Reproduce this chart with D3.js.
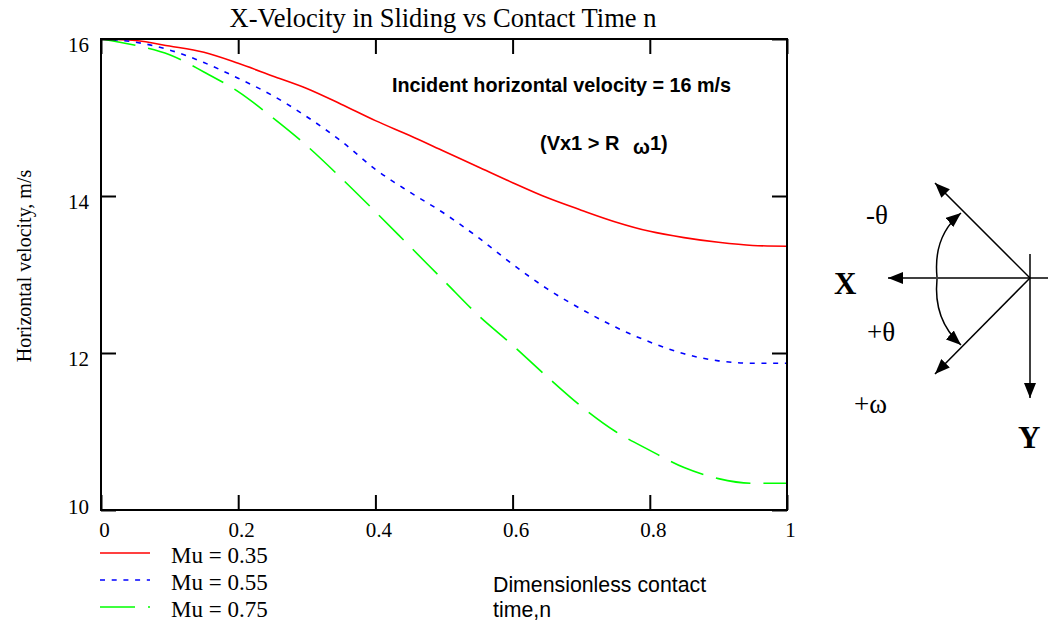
<!DOCTYPE html>
<html>
<head>
<meta charset="utf-8">
<script src="https://cdn.jsdelivr.net/npm/d3@7"></script>
<style>
  body { margin: 0; background: #fff; }
  svg { display: block; }
  .serif { font-family: "Times New Roman", "Liberation Serif", serif; }
  .sans { font-family: Arial, "Liberation Sans", sans-serif; }
</style>
</head>
<body>
<div id="chart"></div>
<script>
// dimensionless contact time n
const nTime = [0, 0.05, 0.1, 0.15, 0.2, 0.25, 0.3, 0.35, 0.4, 0.45, 0.5,
               0.55, 0.6, 0.65, 0.7, 0.75, 0.8, 0.85, 0.9, 0.95, 1];
// horizontal velocity (m/s) for each friction coefficient
const velMu035 = [16.00, 15.98, 15.91, 15.83, 15.69, 15.53, 15.37, 15.17, 14.96, 14.77, 14.57,
                  14.37, 14.17, 13.98, 13.82, 13.67, 13.55, 13.47, 13.41, 13.37, 13.36];
const velMu055 = [16.00, 15.96, 15.86, 15.70, 15.50, 15.28, 15.01, 14.70, 14.34, 14.05, 13.78,
                  13.47, 13.13, 12.82, 12.56, 12.33, 12.14, 11.99, 11.90, 11.87, 11.87];
const velMu075 = [16.00, 15.92, 15.80, 15.58, 15.33, 15.00, 14.64, 14.23, 13.80, 13.36, 12.92,
                  12.48, 12.10, 11.70, 11.32, 11.00, 10.76, 10.54, 10.40, 10.34, 10.34];
const muLabels = ["Mu = 0.35", "Mu = 0.55", "Mu = 0.75"];
const xTicks = [0, 0.2, 0.4, 0.6, 0.8, 1];
const yTicks = [10, 12, 14, 16];

const width = 1048, height = 624;
const margin = {top: 39, right: 261, bottom: 114, left: 101};
const plotW = width - margin.left - margin.right,
      plotH = height - margin.top - margin.bottom;

const series = [
  {label: muLabels[0], values: velMu035, color: "#ff0000", dash: null},
  {label: muLabels[1], values: velMu055, color: "#0000ff", dash: "5,6.7"},
  {label: muLabels[2], values: velMu075, color: "#00ff00", dash: "35,13"}
];

const svg = d3.select("#chart").append("svg")
    .attr("width", width)
    .attr("height", height);

const x = d3.scaleLinear().domain([0, 1]).range([margin.left, margin.left + plotW]);
const y = d3.scaleLinear().domain([10, 16]).range([margin.top + plotH, margin.top]);

// title
svg.append("text")
    .attr("class", "serif")
    .attr("x", 443)
    .attr("y", 27)
    .attr("text-anchor", "middle")
    .style("font-size", "26.5px")
    .text("X-Velocity in Sliding vs Contact Time n");

// curves (drawn before the frame so the frame sits on top)
const line = d3.line()
    .x((d, i) => x(nTime[i]))
    .y(d => y(d))
    .curve(d3.curveMonotoneX);

svg.selectAll(".curve")
    .data(series)
    .join("path")
    .attr("class", "curve")
    .attr("fill", "none")
    .attr("stroke", d => d.color)
    .attr("stroke-width", 1.6)
    .attr("stroke-dasharray", d => d.dash)
    .attr("d", d => line(d.values));

// axes, all ticks pointing inward
const tickLen = 15;
function styleAxis(g) {
  g.select(".domain").remove();
  g.selectAll(".tick line").attr("stroke", "#000").attr("stroke-width", 2);
  g.selectAll("text")
    .attr("class", "serif")
    .attr("fill", "#000")
    .style("font-size", "21px");
}

svg.append("g")
    .attr("transform", `translate(0,${y(10)})`)
    .call(d3.axisBottom(x).tickValues(xTicks).tickSize(-tickLen).tickPadding(12).tickFormat(d => String(d)))
    .call(styleAxis)
    .selectAll("text").attr("dx", 3);

svg.append("g")
    .attr("transform", `translate(0,${y(16)})`)
    .call(d3.axisTop(x).tickValues(xTicks).tickSize(-tickLen).tickFormat(""))
    .call(styleAxis);

svg.append("g")
    .attr("transform", `translate(${x(0)},0)`)
    .call(d3.axisLeft(y).tickValues(yTicks).tickSize(-tickLen).tickPadding(12).tickFormat(d => String(d)))
    .call(styleAxis)
    .selectAll("text").attr("dy", d => d === 10 ? 3 : 12);

svg.append("g")
    .attr("transform", `translate(${x(1)},0)`)
    .call(d3.axisRight(y).tickValues(yTicks).tickSize(-tickLen).tickFormat(""))
    .call(styleAxis);

// frame
svg.append("rect")
    .attr("x", x(0)).attr("y", y(16))
    .attr("width", x(1) - x(0)).attr("height", y(10) - y(16))
    .attr("fill", "none")
    .attr("stroke", "#000")
    .attr("stroke-width", 2);

// y axis title
svg.append("text")
    .attr("class", "serif")
    .attr("transform", "translate(31,266) rotate(-90)")
    .attr("text-anchor", "middle")
    .style("font-size", "20px")
    .text("Horizontal velocity, m/s");

// x axis title (two lines)
const xTitle = svg.append("text")
    .attr("class", "sans")
    .attr("x", 493)
    .attr("y", 592)
    .style("font-size", "21.3px");
xTitle.append("tspan").text("Dimensionless contact");
xTitle.append("tspan").attr("x", 493).attr("dy", 25).text("time,n");

// annotations
svg.append("text")
    .attr("class", "sans")
    .attr("x", 392)
    .attr("y", 92)
    .style("font-size", "19.8px")
    .style("font-weight", "bold")
    .text("Incident horizontal velocity = 16 m/s");

const cond = svg.append("text")
    .attr("class", "sans")
    .attr("x", 540)
    .attr("y", 150)
    .style("font-size", "20px")
    .style("font-weight", "bold");
cond.append("tspan").text("(Vx1 > R ");
cond.append("tspan").attr("dx", 8).attr("dy", 4).text("\u03c9");
cond.append("tspan").attr("dy", -4).text("1)");

// legend
const legend = svg.append("g");
series.forEach((s, i) => {
  const ly = 553 + i * 27;
  legend.append("line")
      .attr("x1", 100).attr("x2", 150)
      .attr("y1", ly).attr("y2", ly)
      .attr("stroke", s.color)
      .attr("stroke-width", 1.6)
      .attr("stroke-dasharray", s.dash);
  legend.append("text")
      .attr("class", "serif")
      .attr("x", 171)
      .attr("y", ly + 10)
      .style("font-size", "23px")
      .text(s.label);
});

// sign convention sketch
const defs = svg.append("defs");
defs.append("marker")
    .attr("id", "arrow")
    .attr("viewBox", "0 0 15 12")
    .attr("refX", 15).attr("refY", 6)
    .attr("markerWidth", 15).attr("markerHeight", 12)
    .attr("markerUnits", "userSpaceOnUse")
    .attr("orient", "auto")
    .append("path")
    .attr("d", "M0,0 L15,6 L0,12 Z")
    .attr("fill", "#000");

const sketch = svg.append("g")
    .attr("stroke", "#000")
    .attr("stroke-width", 1.5)
    .attr("fill", "none");
const ox = 1030, oy = 278;
sketch.append("line").attr("x1", 1048).attr("y1", oy).attr("x2", 888).attr("y2", oy).attr("marker-end", "url(#arrow)");
sketch.append("line").attr("x1", ox).attr("y1", 254).attr("x2", ox).attr("y2", 398).attr("marker-end", "url(#arrow)");
sketch.append("line").attr("x1", ox).attr("y1", oy).attr("x2", 935).attr("y2", 183).attr("marker-end", "url(#arrow)");
sketch.append("line").attr("x1", ox).attr("y1", oy).attr("x2", 935).attr("y2", 374).attr("marker-end", "url(#arrow)");
sketch.append("path").attr("d", "M937,277 Q933,236 961,213").attr("marker-end", "url(#arrow)");
sketch.append("path").attr("d", "M937,279 Q933,320 961,345").attr("marker-end", "url(#arrow)");

const sketchLabels = [
  {t: "-\u03b8", x: 866, y: 224, bold: false},
  {t: "X", x: 834, y: 294, bold: true},
  {t: "+\u03b8", x: 867, y: 341, bold: false},
  {t: "+\u03c9", x: 854, y: 413, bold: false},
  {t: "Y", x: 1018, y: 448, bold: true}
];
svg.selectAll(".sk-label")
    .data(sketchLabels)
    .join("text")
    .attr("class", "serif sk-label")
    .attr("x", d => d.x)
    .attr("y", d => d.y)
    .style("font-size", d => d.bold ? "31px" : "27px")
    .style("font-weight", d => d.bold ? "bold" : "normal")
    .text(d => d.t);
</script>
</body>
</html>
